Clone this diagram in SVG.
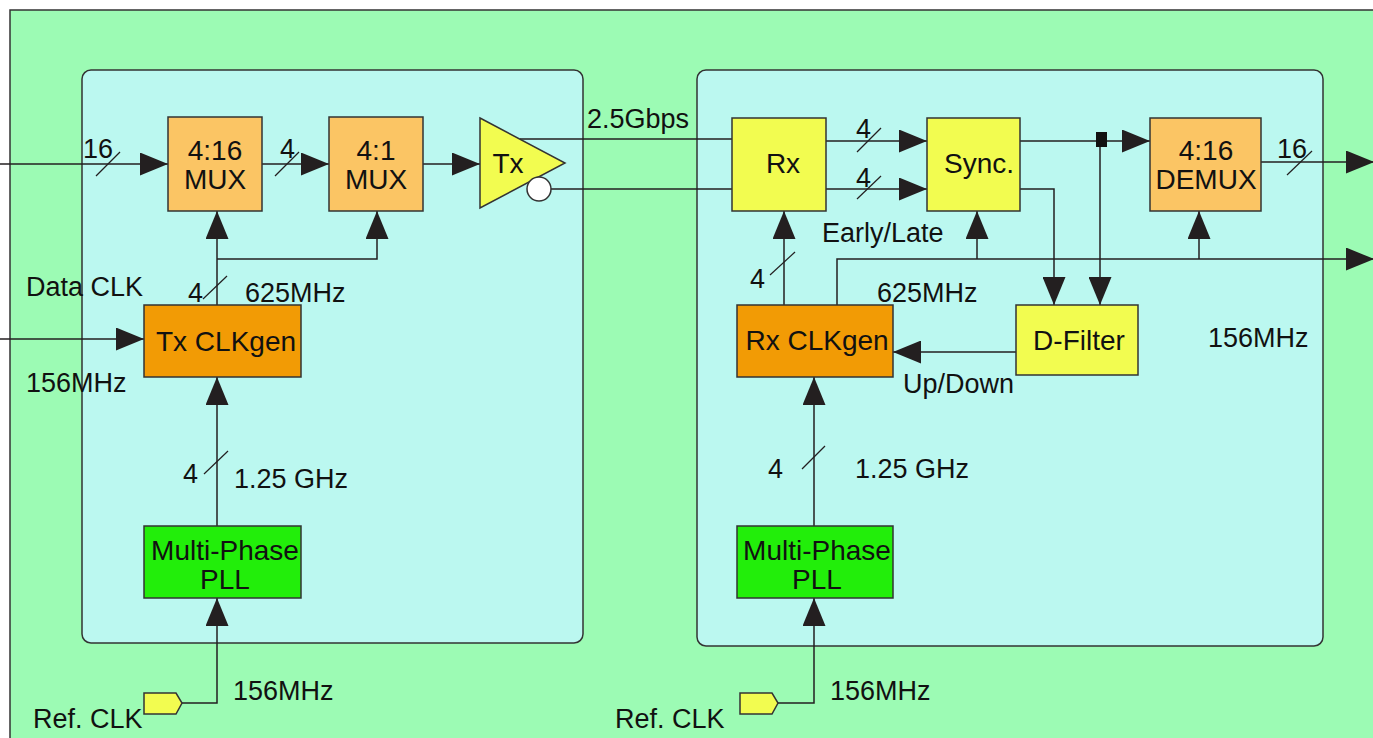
<svg xmlns="http://www.w3.org/2000/svg" width="1373" height="738" viewBox="0 0 1373 738">
<defs>
<style>
text{font-family:"Liberation Sans",Arial,sans-serif;font-size:27px;fill:#111;}
.c{text-anchor:middle;font-size:28px;}
.box{stroke:#333;stroke-width:1.5;}
.mux{fill:#fbc564;}
.gen{fill:#f29b05;}
.yel{fill:#f2fc50;}
.pll{fill:#22ee0a;}
.w{fill:none;stroke:#231f20;stroke-width:1.5;}
.a{marker-end:url(#ah);}
.s{stroke:#231f20;stroke-width:1.2;}
</style>
<marker id="ah" markerUnits="userSpaceOnUse" markerWidth="28" markerHeight="23" refX="28" refY="11.5" orient="auto">
<path d="M0,0 L28,11.5 L0,23 z" fill="#231f20"/>
</marker>
</defs>
<rect x="10" y="10" width="1380" height="740" fill="#9cfbb4" stroke="#333" stroke-width="1.5"/>
<rect x="82" y="70" width="501" height="573" rx="9" fill="#bbf8f0" stroke="#333" stroke-width="1.5"/>
<rect x="697" y="70" width="626" height="576" rx="9" fill="#bbf8f0" stroke="#333" stroke-width="1.5"/>

<g id="connectors">
<line class="w a" x1="0" y1="164" x2="168" y2="164"/>
<line class="w a" x1="262" y1="164" x2="329" y2="164"/>
<line class="w a" x1="423" y1="164" x2="480" y2="164"/>
<line class="w" x1="520" y1="139" x2="732" y2="139"/>
<line class="w" x1="551" y1="189" x2="732" y2="189"/>
<line class="w a" x1="0" y1="339" x2="144" y2="339"/>
<line class="w a" x1="217" y1="305" x2="217" y2="211"/>
<polyline class="w a" points="217,259 377,259 377,211"/>
<line class="w a" x1="217" y1="526" x2="217" y2="377"/>
<polyline class="w a" points="182,703 217,703 217,598"/>
<line class="w a" x1="826" y1="141" x2="927" y2="141"/>
<line class="w a" x1="826" y1="189" x2="927" y2="189"/>
<line class="w a" x1="1020" y1="141" x2="1150" y2="141"/>
<polyline class="w a" points="1020,189 1054,189 1054,305"/>
<line class="w a" x1="1100" y1="141" x2="1100" y2="305"/>
<line class="w a" x1="1261" y1="162" x2="1374" y2="162"/>
<polyline class="w a" points="837,305 837,259 1374,259"/>
<line class="w a" x1="977" y1="259" x2="977" y2="211"/>
<line class="w a" x1="1199" y1="259" x2="1199" y2="211"/>
<line class="w a" x1="784" y1="305" x2="784" y2="211"/>
<line class="w a" x1="1016" y1="352" x2="893" y2="352"/>
<line class="w a" x1="814" y1="526" x2="814" y2="377"/>
<polyline class="w a" points="778,703 814,703 814,598"/>
<rect x="1096" y="132" width="11" height="15" fill="#111"/>
<line class="s" x1="96" y1="176" x2="120" y2="152"/>
<line class="s" x1="275" y1="176" x2="299" y2="152"/>
<line class="s" x1="203" y1="299" x2="227" y2="276"/>
<line class="s" x1="204" y1="474" x2="228" y2="451"/>
<line class="s" x1="857" y1="152" x2="881" y2="128"/>
<line class="s" x1="857" y1="199" x2="881" y2="176"/>
<line class="s" x1="1287" y1="175" x2="1312" y2="151"/>
<line class="s" x1="770" y1="275" x2="795" y2="252"/>
<line class="s" x1="802" y1="469" x2="825" y2="446"/>
</g>

<g id="mux416">
<rect class="box mux" x="168" y="117" width="94" height="94"/>
<text class="c" x="215" y="160">4:16</text>
<text class="c" x="215" y="189">MUX</text>
</g>
<g id="mux41">
<rect class="box mux" x="329" y="117" width="94" height="94"/>
<text class="c" x="376" y="160">4:1</text>
<text class="c" x="376" y="189">MUX</text>
</g>
<g id="tx">
<polygon class="box yel" points="480,118 565,163 480,208"/>
<circle cx="539" cy="189" r="12" fill="#fff" stroke="#333" stroke-width="1.5"/>
<text class="c" x="508" y="173">Tx</text>
</g>
<g id="txclkgen">
<rect class="box gen" x="144" y="305" width="157" height="72"/>
<text class="c" x="226" y="351">Tx CLKgen</text>
</g>
<g id="txpll">
<rect class="box pll" x="144" y="526" width="157" height="72"/>
<text class="c" x="225" y="560">Multi-Phase</text>
<text class="c" x="225" y="589">PLL</text>
</g>
<g id="txref">
<polygon class="box yel" points="144,693 176,693 182,703 176,714 144,714"/>
</g>
<g id="rx">
<rect class="box yel" x="732" y="118" width="94" height="93"/>
<text class="c" x="783" y="173">Rx</text>
</g>
<g id="sync">
<rect class="box yel" x="927" y="118" width="93" height="93"/>
<text class="c" x="979" y="173">Sync.</text>
</g>
<g id="demux">
<rect class="box mux" x="1150" y="118" width="111" height="93"/>
<text class="c" x="1206" y="160">4:16</text>
<text class="c" x="1206" y="189">DEMUX</text>
</g>
<g id="rxclkgen">
<rect class="box gen" x="737" y="305" width="156" height="72"/>
<text class="c" x="817" y="350">Rx CLKgen</text>
</g>
<g id="dfilter">
<rect class="box yel" x="1016" y="305" width="122" height="70"/>
<text class="c" x="1079" y="350">D-Filter</text>
</g>
<g id="rxpll">
<rect class="box pll" x="737" y="526" width="156" height="72"/>
<text class="c" x="817" y="560">Multi-Phase</text>
<text class="c" x="817" y="589">PLL</text>
</g>
<g id="rxref">
<polygon class="box yel" points="740,693 772,693 778,703 772,714 740,714"/>
</g>

<g id="labels">
<text x="83" y="158">16</text>
<text x="280" y="158">4</text>
<text x="587" y="128">2.5Gbps</text>
<text x="26" y="296">Data CLK</text>
<text x="26" y="392">156MHz</text>
<text x="188" y="302">4</text>
<text x="245" y="302">625MHz</text>
<text x="183" y="483">4</text>
<text x="234" y="488">1.25 GHz</text>
<text x="233" y="700">156MHz</text>
<text x="33" y="728">Ref. CLK</text>
<text x="856" y="138">4</text>
<text x="856" y="187">4</text>
<text x="822" y="242">Early/Late</text>
<text x="1277" y="158">16</text>
<text x="750" y="288">4</text>
<text x="877" y="302">625MHz</text>
<text x="903" y="393">Up/Down</text>
<text x="1208" y="347">156MHz</text>
<text x="768" y="478">4</text>
<text x="855" y="478">1.25 GHz</text>
<text x="830" y="700">156MHz</text>
<text x="615" y="728">Ref. CLK</text>
</g>
</svg>
